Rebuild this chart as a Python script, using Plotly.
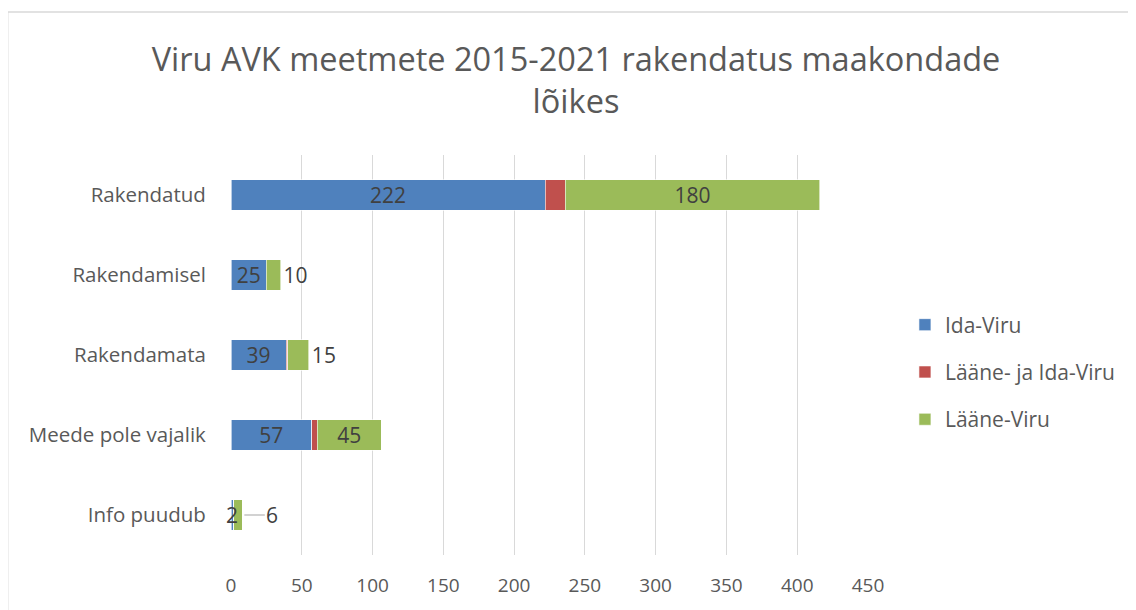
import plotly.graph_objects as go

# Andmed
kategooriad = ["Rakendatud", "Rakendamisel", "Rakendamata", "Meede pole vajalik", "Info puudub"]
ida_viru = [222, 25, 39, 57, 2]
laane_ja_ida = [14, 0, 1, 4, 0]
laane_viru = [180, 10, 15, 45, 6]
x_ticks = [0, 50, 100, 150, 200, 250, 300, 350, 400, 450]

FONT = "'Open Sans', sans-serif"
TEKST = "#404040"
HALL = "#595959"

fig = go.Figure()

# Ida-Viru, sildid keskel (viimane eraldi, et jääks pealmiseks)
ida_sildid = [str(v) for v in ida_viru]
ida_sildid[-1] = ""
fig.add_trace(go.Bar(
    y=kategooriad, x=ida_viru, orientation="h", name="Ida-Viru",
    legendgroup="a",
    marker=dict(color="#4F81BD", line=dict(color="white", width=0.6)),
    text=ida_sildid, textposition="inside", textangle=0,
    insidetextanchor="middle",
    textfont=dict(size=21, color=TEKST, family=FONT),
    cliponaxis=False,
))

# Lääne- ja Ida-Viru, ilma silditeta
fig.add_trace(go.Bar(
    y=kategooriad, x=laane_ja_ida, orientation="h", name="Lääne- ja Ida-Viru",
    legendgroup="b",
    marker=dict(color="#C0504D", line=dict(color="white", width=0.6)),
))

# Lääne-Viru: suured sildid sees, väikesed väljas
asukoht = ["inside" if v >= 40 else "outside" for v in laane_viru]
sildid = [str(v) for v in laane_viru]
sildid[-1] = ""  # viimane silt juhtjoonega eraldi
fig.add_trace(go.Bar(
    y=kategooriad, x=laane_viru, orientation="h", name="Lääne-Viru",
    legendgroup="c",
    marker=dict(color="#9BBB59", line=dict(color="white", width=0.6)),
    text=sildid, textposition=asukoht, textangle=0,
    insidetextanchor="middle",
    textfont=dict(size=21, color=TEKST, family=FONT),
    cliponaxis=False,
))

# silt "2" (kitsa riba peal)
fig.add_annotation(
    x=ida_viru[-1] / 2, y=kategooriad[-1], text=str(ida_viru[-1]),
    showarrow=False, font=dict(size=21, color=TEKST, family=FONT),
)

# silt "6" juhtjoonega
fig.add_annotation(
    x=ida_viru[-1] + laane_ja_ida[-1] + laane_viru[-1], y=kategooriad[-1],
    text=str(laane_viru[-1]), showarrow=True, arrowhead=0,
    arrowcolor="#A6A6A6", arrowwidth=1.2, ax=30, ay=0, standoff=2,
    font=dict(size=21, color=TEKST, family=FONT),
)

fig.update_layout(
    barmode="stack",
    bargap=0.62,
    width=1136, height=610,
    margin=dict(l=223, r=276, t=147, b=63),
    paper_bgcolor="white", plot_bgcolor="white",
    font=dict(family=FONT, color=HALL, size=20),
    title=dict(
        text="Viru AVK meetmete 2015-2021 rakendatus maakondade<br>lõikes",
        x=0.5, xanchor="center", y=0.897, yanchor="middle",
        font=dict(size=32.5, color=HALL, family=FONT),
    ),
    uniformtext=dict(minsize=21, mode="show"),
    legend=dict(
        x=1.058, xanchor="left", y=0.4575, yanchor="middle",
        traceorder="grouped", tracegroupgap=17,
        font=dict(size=21, color=HALL),
        itemwidth=30,
    ),
    showlegend=True,
)

fig.update_xaxes(
    range=[0, 450], tickvals=x_ticks,
    showgrid=True, gridcolor="#D9D9D9", gridwidth=1,
    zeroline=False, showline=False,
    ticks="outside", ticklen=13, tickcolor="white",
    tickfont=dict(size=19, color=HALL),
)
fig.update_yaxes(
    autorange="reversed", showgrid=False, zeroline=False,
    ticks="outside", ticklen=20, tickcolor="white",
    tickfont=dict(size=20.5, color=HALL),
)

# diagrammi ala ääris
fig.add_shape(
    type="rect", xref="paper", yref="paper",
    x0=-0.3506, x1=1.421, y0=-0.16, y1=1.3575,
    line=dict(color="#D9D9D9", width=1.5), fillcolor="rgba(0,0,0,0)",
    layer="below",
)

fig.write_html("out.html")
